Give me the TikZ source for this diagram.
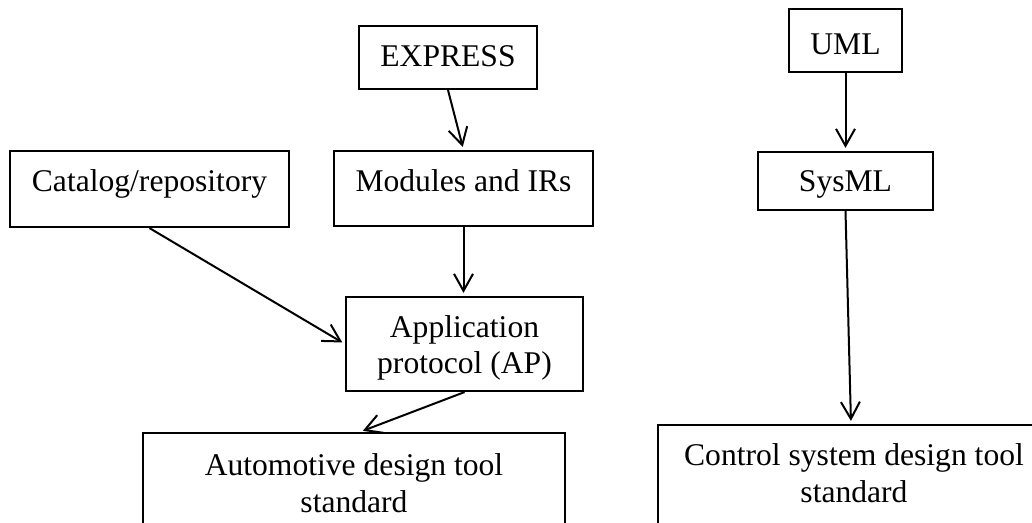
\documentclass[tikz,border=0pt]{standalone}
\usepackage{fontspec}
\setmainfont{Liberation Serif}
\usetikzlibrary{arrows.meta,fit,calc}
\begin{document}
\begin{tikzpicture}[x=0.5pt,y=-0.5pt,
  box/.style={draw=black,line width=1.1pt,inner sep=0pt,fill=none},
  txt/.style={anchor=base,inner sep=0pt,font=\fontsize{15.8}{18}\selectfont},
  conn/.style={draw=black,line width=1pt,-{Straight Barb[length=8.5pt,width=9.5pt,line width=1pt]},shorten >=1.5pt}]
\clip (0,0) rectangle (1032,523);
\fill[white] (0,0) rectangle (1032,523);
% boxes
\node[box,fit={(10,151) (289,227)}] (catalog) {};
\node[box,fit={(334,151) (593,226)}] (modules) {};
\node[box,fit={(359,26) (537,89)}] (express) {};
\node[box,fit={(789,9) (902,72)}] (uml) {};
\node[box,fit={(758,152) (933,210)}] (sysml) {};
\node[box,fit={(346,297) (583,391)}] (ap) {};
\node[box,fit={(143,433) (565,580)}] (auto) {};
\node[box,fit={(658,425) (1050,580)}] (control) {};
% texts
\node[txt] (catalogT) at (149.5,192) {Catalog/repository};
\node[txt] (modulesT) at (463.5,192) {Modules and IRs};
\node[txt] (expressT) at (448,67) {EXPRESS};
\node[txt] (umlT) at (845.5,55) {UML};
\node[txt] (sysmlT) at (845.5,192) {SysML};
\node[txt] (apT1) at (464.5,337) {Application};
\node[txt] (apT2) at (464.5,373) {protocol (AP)};
\node[txt] (autoT1) at (354,475) {Automotive design tool};
\node[txt] (autoT2) at (354,512) {standard};
\node[txt] (controlT1) at (854,465) {Control system design tool};
\node[txt] (controlT2) at (854,502) {standard};
% connectors
\draw[conn] (express.south) -- (modules.north);
\draw[conn] (modules.south) -- (modules.south |- ap.north);
\draw[conn] (catalog.south) -- (ap.west);
\draw[conn] (ap.south) -- ($(auto.north)+(6,0)$);
\draw[conn] (uml.south) -- (sysml.north);
\draw[conn] (sysml.south) -- ($(control.north)+(-3,0)$);
\end{tikzpicture}
\end{document}
